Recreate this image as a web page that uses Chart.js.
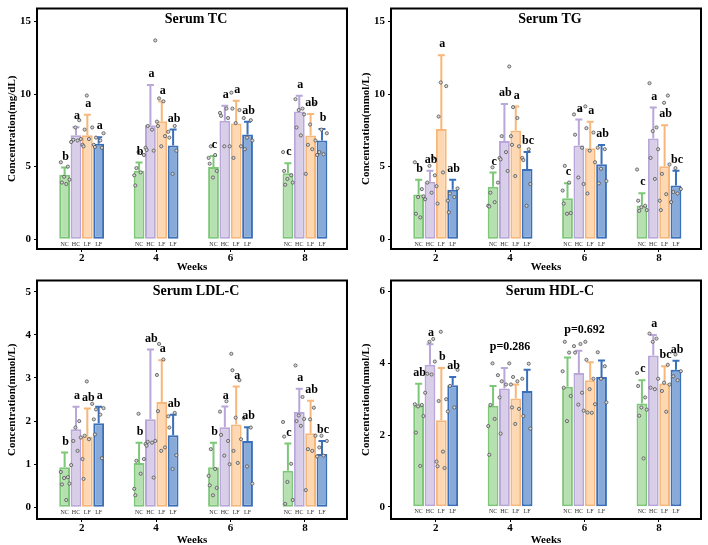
<!DOCTYPE html>
<html>
<head>
<meta charset="utf-8">
<script src="https://cdn.jsdelivr.net/npm/chart.js@4.4.1/dist/chart.umd.min.js"></script>
<style>
body { margin: 0; background: #fff; }
#wrap { position: relative; width: 708px; height: 545px; }
canvas { position: absolute; }
</style>
</head>
<body>
<div id="wrap">
  <canvas id="c_tc" width="354" height="272" style="left:0;top:0"></canvas>
  <canvas id="c_tg" width="354" height="272" style="left:354px;top:0"></canvas>
  <canvas id="c_ldl" width="354" height="273" style="left:0;top:272px"></canvas>
  <canvas id="c_hdl" width="354" height="273" style="left:354px;top:272px"></canvas>
</div>
<script>
// weeks and group names
const weeks = [2, 4, 6, 8];
const groups = ['NC', 'HC', 'LF', 'LF'];

// Serum TC  (rows = NC, HC, LF, LF ; columns = weeks)
const tcMean = [[4.44, 4.71, 4.98, 4.55], [7.17, 7.85, 8.17, 8.8], [7.17, 8.13, 7.97, 7.15], [6.58, 6.46, 7.22, 6.8]];
const tcUpper = [[4.94, 5.28, 5.74, 5.23], [7.72, 10.63, 9.2, 9.88], [8.58, 9.49, 9.54, 8.62], [7.03, 7.56, 8.1, 7.6]];
const tcPoints = [
    [[5.3, 5.0, 4.3, 4.1, 3.9, 3.8], [6.0, 5.8, 4.9, 4.6, 4.4, 3.7], [6.4, 5.8, 5.6, 5.2, 4.7, 4.25], [6.0, 4.7, 4.4, 4.15, 3.9, 3.75]],
    [[8.2, 7.7, 6.9, 6.85, 6.8, 6.7], [13.7, 7.8, 7.55, 6.3, 6.15, 6.1], [9.0, 8.7, 8.5, 8.35, 6.4, 6.4], [9.65, 9.0, 8.9, 8.6, 7.7, 7.15]],
    [[9.9, 7.7, 7.55, 6.9, 6.5, 6.4], [9.7, 9.5, 8.1, 7.8, 7.1, 6.4], [10.1, 9.0, 8.9, 8.0, 6.4, 5.6], [9.3, 7.9, 6.8, 6.5, 6.2, 4.5]],
    [[7.3, 7.0, 6.8, 6.5, 6.35, 6.3], [7.8, 7.4, 7.0, 6.1, 4.5], [8.35, 8.2, 7.0, 6.8, 6.2], [7.55, 7.3, 6.0, 5.85, 5.8]]
];
const tcLetters = [['b', 'b', 'c', 'c'], ['a', 'a', 'a', 'a'], ['a', 'a', 'a', 'ab'], ['a', 'ab', 'ab', 'b']];

// Serum TG
const tgMean = [[3.07, 3.62, 2.82, 2.32], [3.96, 6.76, 6.46, 6.94], [7.6, 7.49, 6.26, 5.03], [3.41, 4.83, 5.17, 3.7]];
const tgUpper = [[4.1, 4.6, 3.85, 3.16], [4.71, 9.31, 8.24, 9.08], [12.68, 9.15, 8.1, 7.85], [4.1, 6.01, 6.49, 4.71]];
const tgPoints = [
    [[5.3, 3.45, 2.9, 2.95, 1.75, 1.5], [4.95, 3.9, 3.2, 2.55, 2.3, 2.25], [5.05, 3.9, 3.35, 2.45, 1.8, 1.75], [4.8, 2.65, 2.3, 2.2, 2.0, 1.95]],
    [[5.6, 5.05, 4.4, 3.9, 3.2, 2.75], [11.9, 7.1, 6.0, 5.6, 5.5, 4.7], [8.9, 8.6, 7.2, 6.3, 4.25, 3.8], [10.75, 7.7, 7.45, 6.2, 5.6, 4.15]],
    [[10.8, 10.55, 8.45, 4.6, 3.65, 2.45], [9.1, 8.35, 7.1, 6.5, 6.4, 4.35], [9.15, 7.65, 7.35, 6.1, 5.3, 3.15], [9.9, 9.4, 5.15, 4.5, 3.1, 2.65, 2.0]],
    [[3.5, 3.15, 2.9, 2.65, 1.85], [6.2, 5.6, 5.45, 3.8, 2.3], [6.3, 6.2, 4.85, 4.0, 3.85], [4.9, 3.45, 3.25, 3.15, 2.55]]
];
const tgLetters = [['b', 'c', 'c', 'c'], ['ab', 'ab', 'a', 'a'], ['a', 'a', 'a', 'ab'], ['ab', 'bc', 'ab', 'bc']];

// Serum LDL-C
const ldlMean = [[0.93, 1.03, 0.93, 0.85], [1.81, 2.04, 1.86, 2.21], [1.64, 2.44, 1.92, 1.72], [1.95, 1.67, 1.54, 1.24]];
const ldlUpper = [[1.27, 1.5, 1.5, 1.48], [2.33, 3.66, 2.34, 2.75], [2.29, 3.41, 2.8, 2.47], [2.33, 2.15, 1.86, 1.54]];
const ldlPoints = [
    [[0.82, 0.7, 0.68, 0.55, 0.53, 0.17], [2.17, 1.12, 1.08, 0.78, 0.43, 0.28], [1.35, 0.89, 0.73, 0.51, 0.45, 0.28], [1.98, 1.64, 1.01, 0.59, 0.17, 0.08]],
    [[2.0, 1.85, 1.62, 1.54, 1.31, 0.98], [1.54, 1.52, 1.5, 1.47, 1.43, 0.69], [2.46, 2.22, 1.68, 1.54, 1.2, 1.0], [3.29, 2.56, 2.13, 2.05, 2.0, 1.89]],
    [[2.92, 2.4, 1.66, 1.58, 1.12, 0.66], [3.79, 3.43, 3.07, 2.23, 1.39, 1.31], [3.56, 3.18, 2.95, 2.08, 1.58, 1.31, 1.03], [2.31, 2.04, 1.66, 1.35, 1.31, 0.4]],
    [[2.3, 2.27, 2.15, 2.04, 1.69, 1.14], [2.19, 2.11, 1.85, 1.21, 0.89], [2.06, 1.85, 0.95, 0.55], [1.66, 1.54, 1.39, 1.2, 1.18]]
];
const ldlLetters = [['b', 'b', 'b', 'c'], ['a', 'ab', 'a', 'a'], ['ab', 'a', 'a', 'ab'], ['a', 'ab', 'ab', 'bc']];

// Serum HDL-C
const hdlMean = [[2.82, 2.82, 3.35, 2.88], [3.96, 3.3, 3.73, 4.22], [2.41, 3.02, 3.53, 3.44], [3.39, 3.23, 3.62, 3.82]];
const hdlUpper = [[3.43, 3.37, 4.16, 3.53], [4.53, 3.87, 4.35, 4.79], [3.87, 3.41, 4.03, 3.92], [3.62, 3.82, 4.08, 4.07]];
const hdlPoints = [
    [[2.86, 2.84, 2.8, 2.53, 2.07, 1.14], [4.0, 3.67, 2.84, 2.45, 2.25, 1.45], [4.6, 4.3, 3.78, 3.32, 3.09, 2.39], [3.73, 3.37, 3.05, 2.77, 2.71, 2.54, 1.35]],
    [[4.68, 4.6, 4.05, 3.71, 3.69, 3.18], [4.0, 3.5, 3.41, 3.05, 2.04], [4.54, 4.48, 4.3, 3.18, 2.85, 2.68], [4.83, 4.69, 4.6, 3.57, 3.32, 3.28]],
    [[4.88, 3.0, 2.95, 1.54, 1.26, 1.13, 1.08], [3.62, 3.5, 3.41, 2.77, 2.73, 2.31], [4.6, 4.1, 3.57, 3.28, 2.86, 2.63, 2.62], [3.96, 3.46, 3.41, 3.23, 2.65]],
    [[3.82, 3.37, 2.77, 2.66], [3.99, 3.57, 2.53, 2.18], [4.31, 3.92, 3.57, 2.91], [4.25, 3.78, 3.64, 3.53]]
];
const hdlLetters = [['ab', '', '', 'c'], ['a', '', '', 'a'], ['b', '', '', 'bc'], ['ab', '', '', 'ab']];
const hdlPvalues = ['', 'p=0.286', 'p=0.692', ''];

const FILLS = ['#b6e0b0', '#d8cee8', '#fdd8b3', '#88aad9'];
const BORDERS = ['#7dc878', '#b8a7d8', '#f8b77a', '#3a6fba'];
const JITTER = [-0.35, 0.3, -0.05, 0.45, -0.25, 0.15, -0.45];
const FONT = 'Liberation Serif';

function makeOverlay(p) {
    return {
        id: 'overlay',
        afterDatasetsDraw(chart) {
            const ctx = chart.ctx;
            const y = chart.scales.y;
            const zero = y.getPixelForValue(0);
            ctx.save();
            chart.data.datasets.forEach((ds, i) => {
                const meta = chart.getDatasetMeta(i);
                meta.data.forEach((bar, j) => {
                    const top = y.getPixelForValue(p.upper[i][j]);
                    // error bar
                    ctx.strokeStyle = BORDERS[i];
                    ctx.lineWidth = 2;
                    ctx.beginPath();
                    ctx.moveTo(bar.x, bar.y);
                    ctx.lineTo(bar.x, top);
                    ctx.moveTo(bar.x - 3.5, top);
                    ctx.lineTo(bar.x + 3.5, top);
                    ctx.stroke();
                    // individual samples
                    p.points[i][j].forEach((v, k) => {
                        const px = bar.x + JITTER[(k + j * 2 + i) % JITTER.length] * bar.width;
                        ctx.beginPath();
                        ctx.arc(px, y.getPixelForValue(v), 1.6, 0, Math.PI * 2);
                        ctx.fillStyle = '#d4d4d4';
                        ctx.fill();
                        ctx.lineWidth = 0.7;
                        ctx.strokeStyle = '#444';
                        ctx.stroke();
                    });
                    ctx.fillStyle = '#000';
                    ctx.textAlign = 'center';
                    ctx.textBaseline = 'middle';
                    if (p.letters[i][j]) {
                        ctx.font = 'bold 12px ' + FONT;
                        ctx.fillText(p.letters[i][j], bar.x + 1, top - 11);
                    }
                    ctx.font = '6px ' + FONT;
                    ctx.fillStyle = '#333';
                    ctx.fillText(groups[i], bar.x, zero + 5);
                });
            });
            if (p.notes) {
                ctx.font = 'bold 12px ' + FONT;
                ctx.fillStyle = '#000';
                p.notes.forEach((txt, j) => {
                    if (!txt) return;
                    const caps = p.upper.map(r => r[j]);
                    const ty = y.getPixelForValue(Math.max(...caps)) - 21;
                    const x0 = chart.getDatasetMeta(0).data[j].x;
                    const x3 = chart.getDatasetMeta(3).data[j].x;
                    ctx.fillText(txt, (x0 + x3) / 2, ty);
                });
            }
            ctx.restore();
        },
        afterDraw(chart) {
            const ctx = chart.ctx;
            const a = chart.chartArea;
            ctx.save();
            ctx.strokeStyle = '#000';
            ctx.lineWidth = 2;
            ctx.strokeRect(a.left, a.top, a.right - a.left, a.bottom - a.top);
            ctx.font = 'bold 14px ' + FONT;
            ctx.fillStyle = '#000';
            ctx.textAlign = 'center';
            ctx.textBaseline = 'middle';
            ctx.fillText(p.title, (a.left + a.right) / 2 + 4, a.top + 11);
            ctx.restore();
        }
    };
}

function drawPanel(id, p) {
    const tickFont = { family: FONT, size: 11, weight: 'bold', lineHeight: 1 };
    new Chart(document.getElementById(id), {
        type: 'bar',
        data: {
            labels: weeks,
            datasets: p.mean.map((vals, i) => ({
                label: groups[i],
                data: vals,
                backgroundColor: FILLS[i],
                borderColor: BORDERS[i],
                borderWidth: 2,
                borderSkipped: false
            }))
        },
        options: {
            responsive: false,
            animation: false,
            devicePixelRatio: 1,
            events: [],
            categoryPercentage: 0.61,
            barPercentage: 0.95,
            layout: { padding: { top: 6, right: 7, left: 0, bottom: 0 } },
            plugins: { legend: { display: false }, tooltip: { enabled: false } },
            scales: {
                x: {
                    type: 'linear',
                    min: 0.8,
                    max: 9.13,
                    offset: false,
                    afterBuildTicks: s => { s.ticks = weeks.map(v => ({ value: v })); },
                    grid: { drawOnChartArea: false, tickLength: 3, color: '#000', offset: false },
                    border: { display: false },
                    ticks: { font: tickFont, color: '#000', padding: 1, maxRotation: 0 },
                    title: { display: true, text: 'Weeks', color: '#000', font: tickFont, padding: { top: 0, bottom: -1 } },
                    afterFit: s => { s.height = p.xHeight; }
                },
                y: {
                    min: p.yMin,
                    max: p.yMax,
                    afterBuildTicks: s => { s.ticks = p.yTicks.map(v => ({ value: v })); },
                    grid: { drawOnChartArea: false, tickLength: 3, color: '#000' },
                    border: { display: false },
                    ticks: { font: tickFont, color: '#000', padding: 3 },
                    title: { display: true, text: p.yTitle, color: '#000', font: tickFont, padding: { top: 7, bottom: 0 } },
                    afterFit: s => { s.width = 37; }
                }
            }
        },
        plugins: [makeOverlay(p)]
    });
}

drawPanel('c_tc', { title: 'Serum TC', yTitle: 'Concentration(mg/dL)', mean: tcMean, upper: tcUpper, points: tcPoints, letters: tcLetters,
    yMin: -0.68, yMax: 15.9, yTicks: [0, 5, 10, 15], xHeight: 23 });
drawPanel('c_tg', { title: 'Serum TG', yTitle: 'Concentration(mmol/L)', mean: tgMean, upper: tgUpper, points: tgPoints, letters: tgLetters,
    yMin: -0.68, yMax: 15.9, yTicks: [0, 5, 10, 15], xHeight: 23 });
drawPanel('c_ldl', { title: 'Serum LDL-C', yTitle: 'Concentration(mmol/L)', mean: ldlMean, upper: ldlUpper, points: ldlPoints, letters: ldlLetters,
    yMin: -0.27, yMax: 5.26, yTicks: [0, 1, 2, 3, 4, 5], xHeight: 26 });
drawPanel('c_hdl', { title: 'Serum HDL-C', yTitle: 'Concentration(mmol/L)', mean: hdlMean, upper: hdlUpper, points: hdlPoints, letters: hdlLetters,
    notes: hdlPvalues, yMin: -0.34, yMax: 6.31, yTicks: [0, 2, 4, 6], xHeight: 26 });
</script>
</body>
</html>
